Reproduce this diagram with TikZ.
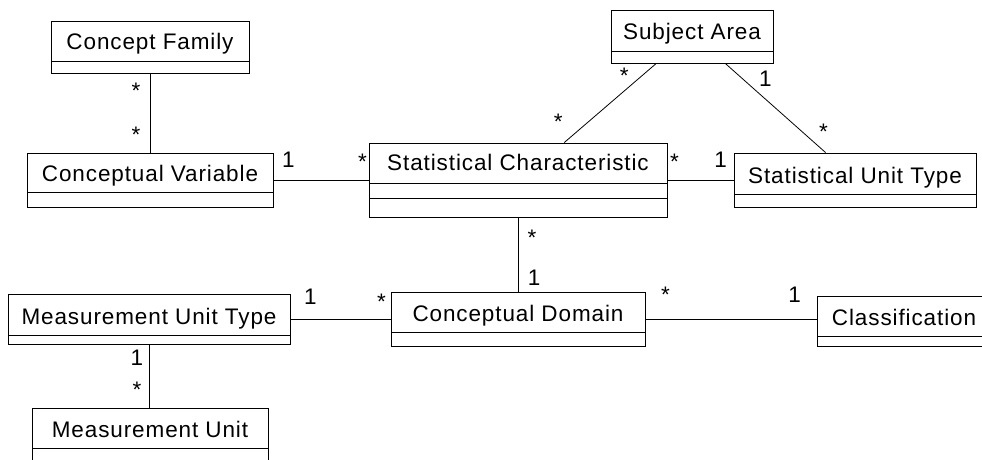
\documentclass[tikz,border=0pt]{standalone}
\usepackage{fontspec}
\setmainfont[LetterSpace=4]{Liberation Sans}
\usetikzlibrary{calc,fit}

\begin{document}
\begin{tikzpicture}[x=0.02cm, y=-0.02cm, font=\fontsize{12.8}{15}\selectfont]
	\tikzset{cls/.style={draw, rectangle, inner sep=0pt, line width=0.5pt},
		title/.style={inner sep=0pt, anchor=base},
		part/.style={line width=0.5pt},
		assoc/.style={line width=0.45pt},
		mult/.style={inner sep=0pt}}
	\clip (0,0) rectangle (982,459);

	% Classes
	\node[cls, fit={(51,21) (249,73)}] (cf) {};
	\draw[part] (51,61) -- (249,61);
	\node[title] (cftitle) at (150,50) {Concept Family};

	\node[cls, fit={(27,153) (273,207)}] (cv) {};
	\draw[part] (27,192) -- (273,192);
	\node[title] (cvtitle) at (150,181) {Conceptual Variable};

	\node[cls, fit={(611,10) (773,63)}] (sa) {};
	\draw[part] (611,51) -- (773,51);
	\node[title] (satitle) at (692,40) {Subject Area};

	\node[cls, fit={(369,143) (667,217)}] (sc) {};
	\draw[part] (369,183) -- (667,183);
	\draw[part] (369,198) -- (667,198);
	\node[title] (sctitle) at (518,171) {Statistical Characteristic};

	\node[cls, fit={(734,153) (976,207)}] (sut) {};
	\draw[part] (734,194) -- (976,194);
	\node[title] (suttitle) at (855,183) {Statistical Unit Type};

	\node[cls, fit={(391,292) (645,346)}] (cd) {};
	\draw[part] (391,332) -- (645,332);
	\node[title] (cdtitle) at (518,321) {Conceptual Domain};

	\node[cls, fit={(8,294) (290,344)}] (mut) {};
	\draw[part] (8,335) -- (290,335);
	\node[title] (muttitle) at (149,324) {Measurement Unit Type};

	\node[cls, fit={(817,296) (995,346)}] (clf) {};
	\draw[part] (817,336) -- (995,336);
	\node[title] (clftitle) at (904,325) {Classification};

	\node[cls, fit={(32,408) (268,475)}] (mu) {};
	\draw[part] (32,448) -- (268,448);
	\node[title] (mutitle) at (150,437) {Measurement Unit};

	% Associations
	\draw[assoc] (cf) -- (cv)
		node[mult, at start, shift={(-14,17)}] {*}
		node[mult, at end, shift={(-14,-18)}] {*};
	\draw[assoc] (cv) -- (sc)
		node[mult, at start, shift={(15,-20)}] {1}
		node[mult, at end, shift={(-6,-18)}] {*};
	\draw[assoc] (sc) -- (sut)
		node[mult, at start, shift={(7,-18)}] {*}
		node[mult, at end, shift={(-13,-20)}] {1};
	\draw[assoc] (sa.217) -- (sc.39.4)
		node[mult, at start, shift={(-32,12)}, fill=white, inner sep=1pt] {*}
		node[mult, at end, shift={(-6,-21)}] {*};
	\draw[assoc] (sa.321.2) -- (sut.137.1)
		node[mult, at start, shift={(40,15)}] {1}
		node[mult, at end, shift={(-2,-21)}] {*};
	\draw[assoc] (sc) -- (cd)
		node[mult, at start, shift={(14,20)}] {*}
		node[mult, at end, shift={(16,-14)}] {1};
	\draw[assoc] (mut) -- (cd)
		node[mult, at start, shift={(20,-22)}] {1}
		node[mult, at end, shift={(-9,-17)}] {*};
	\draw[assoc] (cd.east) -- (cd.east -| clf.west)
		node[mult, at start, shift={(20,-24)}] {*}
		node[mult, at end, shift={(-22,-24)}] {1};
	\draw[assoc] (mut.south) -- (mut.south |- mu.north)
		node[mult, at start, shift={(-12,13)}] {1}
		node[mult, at end, shift={(-12,-18)}] {*};

\end{tikzpicture}
\end{document}
